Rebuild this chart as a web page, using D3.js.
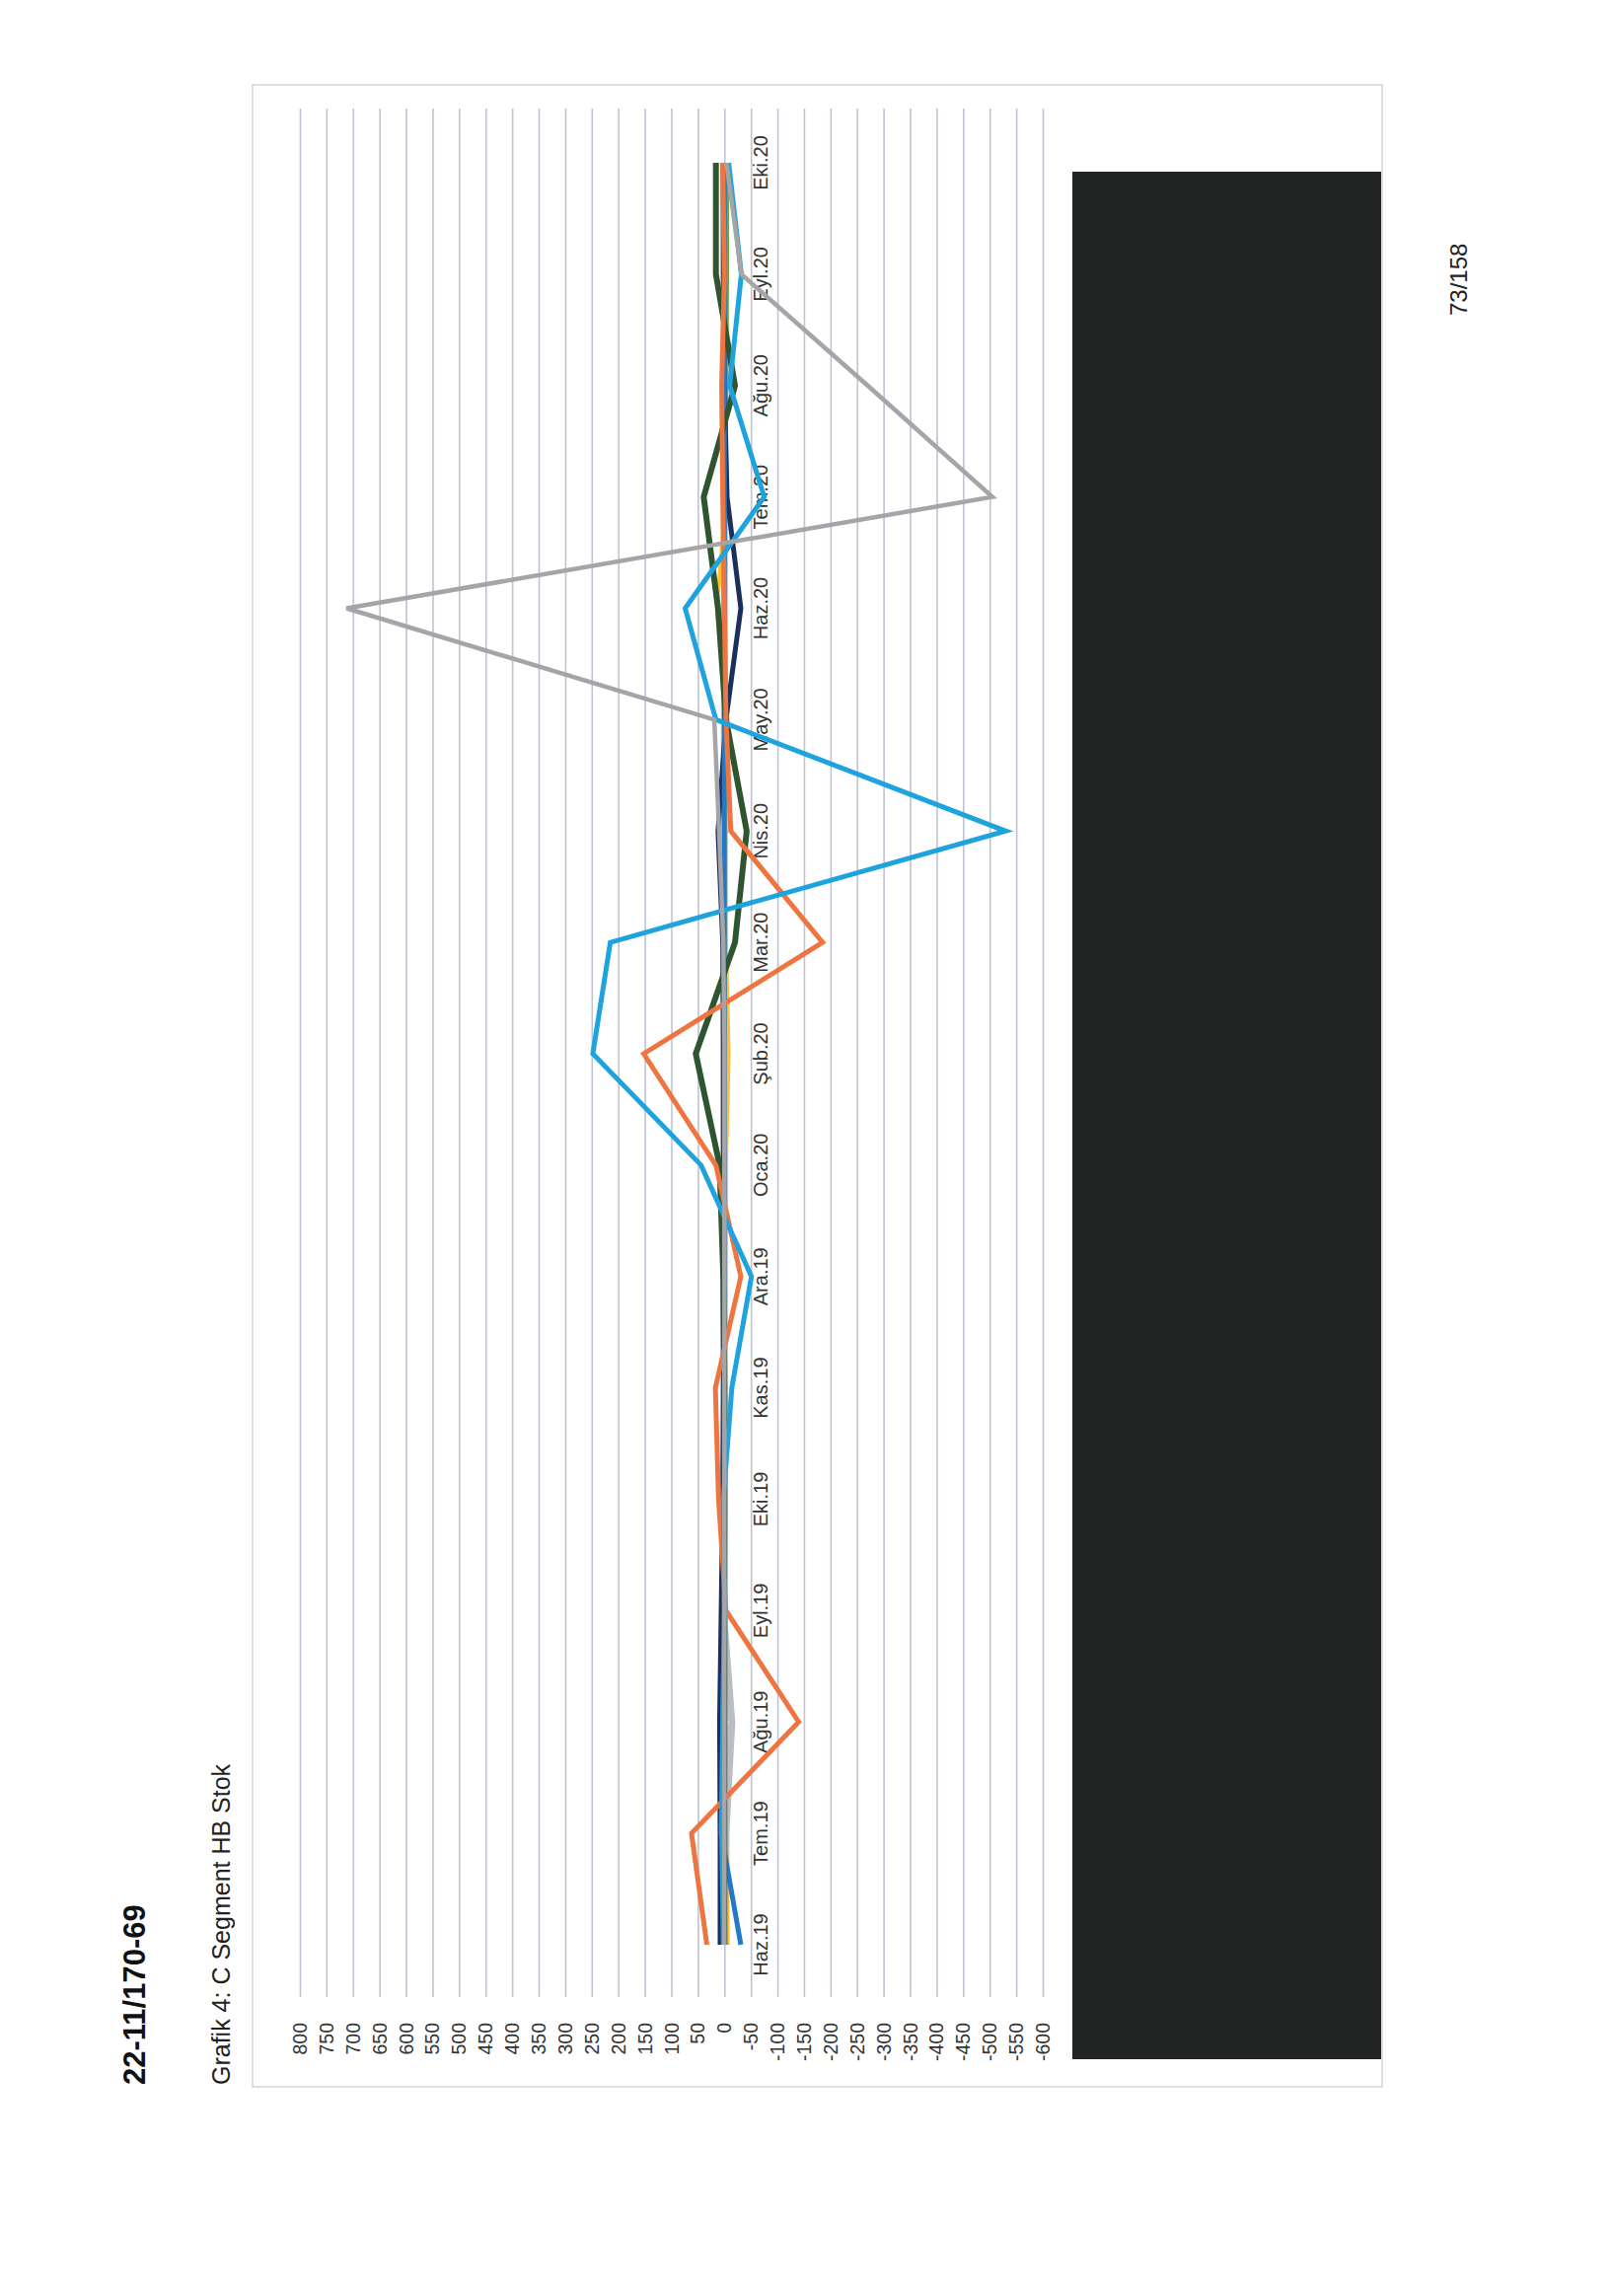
<!DOCTYPE html>
<html>
<head>
<meta charset="utf-8">
<script src="https://cdn.jsdelivr.net/npm/d3@7"></script>
<style>
  html, body { margin: 0; padding: 0; background: #ffffff; }
  svg { display: block; }
</style>
</head>
<body>
<svg id="page" width="1633" height="2327"></svg>
<script>
// ---- data ----
const categories = ["Haz.19","Tem.19","Ağu.19","Eyl.19","Eki.19","Kas.19","Ara.19","Oca.20","Şub.20","Mar.20","Nis.20","May.20","Haz.20","Tem.20","Ağu.20","Eyl.20","Eki.20"];
const valueTicks = [800,750,700,650,600,550,500,450,400,350,300,250,200,150,100,50,0,-50,-100,-150,-200,-250,-300,-350,-400,-450,-500,-550,-600];

const lightGrayVals = [-3, -3, -14, 2, 0, 0, 0, 0, 0, 0, 0, 0, 0, 0, 0, 0, 1];
const greenVals     = [0, 0, 0, 0, 0, 0, 0, 0, 0, 0, 0, 0, 0, -2, -5, -6, -6];
const goldVals      = [-6, -3, -3, -2, -2, -2, -2, -3, -8, -3, -2, -6, 14, -3, 0, 2, 3];
const navyVals      = [8, 8, 9, 6, 3, 2, 2, 2, 2, 3, 12, -3, -31, -5, 0, 2, 2];
const blueVals      = [-31, 6, 3, 0, 0, 0, 0, 0, 0, 0, 0, 0, 0, 0, 0, 0, 0];
const darkGreenVals = [0, 0, 0, 0, 0, 0, 2, 9, 54, -20, -42, -3, 12, 39, -20, 16, 16];
const orangeVals    = [33, 62, -140, -3, 11, 17, -31, 16, 152, -185, -12, -3, 0, 3, 5, 0, 3];
const lightBlueVals = [2, 5, 3, 0, 2, -14, -51, 44, 248, 215, -530, 16, 74, -75, -10, -32, -8];
const grayVals      = [0, 0, 0, 0, 0, 0, 0, 0, 0, 2, 10, 19, 712, -505, -270, -32, -4];

const series = [
  {name: "S8", values: lightGrayVals, color: "#bcbcc4", width: 7},
  {name: "S9", values: greenVals,     color: "#6fa545", width: 3},
  {name: "S6", values: goldVals,      color: "#ffbf2e", width: 4},
  {name: "S5", values: navyVals,      color: "#1c2e5c", width: 5},
  {name: "S7", values: blueVals,      color: "#2478c8", width: 5},
  {name: "S4", values: darkGreenVals, color: "#2e5530", width: 6},
  {name: "S1", values: orangeVals,    color: "#ee7440", width: 5},
  {name: "S2", values: lightBlueVals, color: "#1fa3de", width: 5},
  {name: "S3", values: grayVals,      color: "#a5a5a8", width: 4.5}
];

// ---- layout ----
const svg = d3.select("#page");
const fontFamily = "'Liberation Sans', Arial, sans-serif";

// value axis runs horizontally (chart is rotated 90deg counter-clockwise)
const xVal = d3.scaleLinear().domain([800, -600]).range([304, 1057]);
// categories run vertically, first at the bottom
const yCat = d3.scalePoint().domain(categories).range([1971, 165]);
const gridTop = 110, gridBottom = 2024;

// header texts (rotated)
svg.append("text")
  .attr("transform", "translate(147,2113) rotate(-90)")
  .attr("font-family", fontFamily).attr("font-weight", "bold")
  .attr("font-size", 31).attr("fill", "#111")
  .text("22-11/170-69");

svg.append("text")
  .attr("transform", "translate(233,2113) rotate(-90)")
  .attr("font-family", fontFamily)
  .attr("font-size", 25).attr("fill", "#222")
  .text("Grafik 4: C Segment HB Stok");

svg.append("text")
  .attr("transform", "translate(1487,320) rotate(-90)")
  .attr("font-family", fontFamily)
  .attr("font-size", 24).attr("fill", "#222")
  .text("73/158");

// chart frame
svg.append("rect")
  .attr("x", 256).attr("y", 86).attr("width", 1145).attr("height", 2029)
  .attr("fill", "none").attr("stroke", "#d4d4d8").attr("stroke-width", 1.5);

// gridlines via axis
const gridAxis = d3.axisBottom(xVal).tickValues(valueTicks)
  .tickSize(gridBottom - gridTop).tickFormat("");
const grid = svg.append("g").attr("transform", `translate(0,${gridTop})`).call(gridAxis);
grid.select(".domain").remove();
grid.selectAll(".tick line").attr("stroke", "#bfc3d3").attr("stroke-width", 1.6);

// value tick labels
svg.append("g").selectAll("text").data(valueTicks).join("text")
  .attr("transform", d => `translate(${xVal(d) + 7},2050) rotate(-90)`)
  .attr("text-anchor", "end")
  .attr("font-family", fontFamily).attr("font-size", 19.5).attr("fill", "#333")
  .text(d => d);

// category labels next to the zero line
svg.append("g").selectAll("text").data(categories).join("text")
  .attr("transform", d => `translate(${xVal(0) + 44},${yCat(d)}) rotate(-90)`)
  .attr("text-anchor", "middle")
  .attr("font-family", fontFamily).attr("font-size", 20).attr("fill", "#333")
  .text(d => d);

// lines
const line = d3.line()
  .x(d => xVal(d.v))
  .y(d => yCat(d.c));

svg.append("g").selectAll("path").data(series).join("path")
  .attr("d", s => line(s.values.map((v, i) => ({c: categories[i], v}))))
  .attr("fill", "none")
  .attr("stroke", s => s.color)
  .attr("stroke-width", s => s.width)
  .attr("stroke-linejoin", "miter")
  .attr("stroke-linecap", "butt");

// redaction block
svg.append("rect")
  .attr("x", 1087).attr("y", 174).attr("width", 313).attr("height", 1913)
  .attr("fill", "#212422");
</script>
</body>
</html>
